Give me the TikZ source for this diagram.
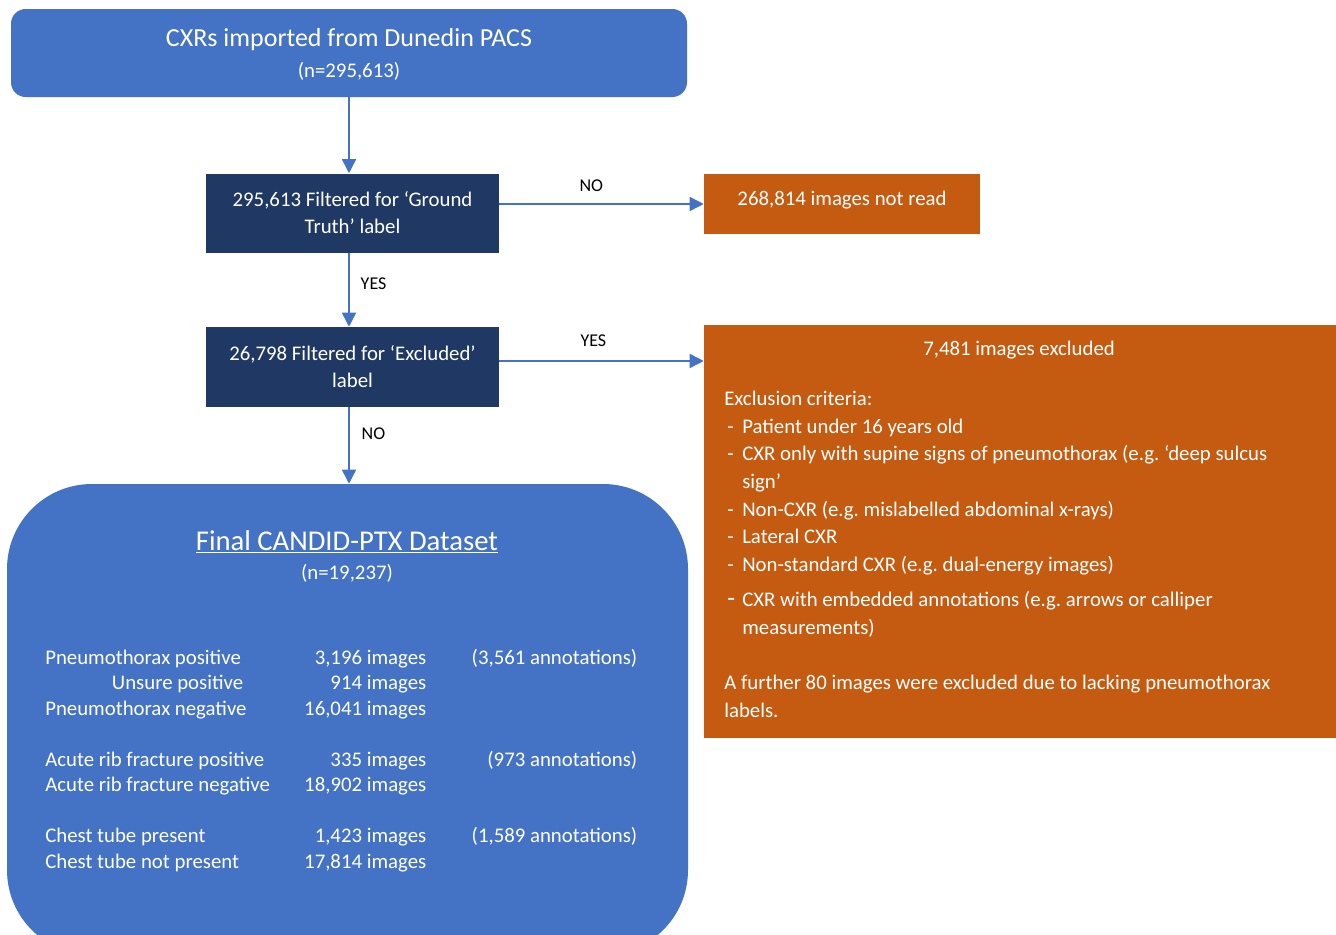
\documentclass[tikz,border=0pt]{standalone}
\usepackage{fontspec}
\setmainfont{Carlito}
\usetikzlibrary{arrows.meta,positioning}
\frenchspacing

\definecolor{boxblue}{HTML}{4472C4}
\definecolor{navy}{HTML}{203864}
\definecolor{rust}{HTML}{C55A11}

\newcommand{\bodyfont}{\fontsize{15.6pt}{20.3pt}\selectfont}
\newcommand{\headfont}{\fontsize{19.5pt}{23pt}\selectfont}
\newcommand{\bigfont}{\fontsize{21.5pt}{25pt}\selectfont}
\newcommand{\lblfont}{\fontsize{13.5pt}{16pt}\selectfont}
\newcommand{\listfont}{\fontsize{15.6pt}{20.7pt}\selectfont}
\newcommand{\tablefont}{\fontsize{15.6pt}{19.125pt}\selectfont}
% exclusion list items
\newcommand{\crit}[1]{\makebox[13.5pt][l]{\hspace{2.25pt}-}#1}
\newcommand{\critcont}[1]{\hspace*{13.5pt}#1}
% one line of the dataset table
\newcommand{\statrow}[3]{\makebox[191.25pt][l]{#1}\makebox[94.5pt][r]{#2}\makebox[158.25pt][r]{#3}}

\begin{document}
\begin{tikzpicture}[x=0.75pt,y=-0.75pt,
    every node/.style={inner sep=0pt, font=\bodyfont},
    bluebox/.style={fill=boxblue, text=white, rounded corners=11pt, minimum width=507pt, minimum height=66pt},
    filterbox/.style={fill=navy, text=white, minimum width=219.75pt, minimum height=59.25pt, align=center},
    rustbox/.style={fill=rust, text=white},
    flow/.style={draw=boxblue, line width=1.1pt, -{Triangle[length=10.5pt,width=10.5pt]}},
    lbl/.style={font=\lblfont, text=black}]
  \useasboundingbox (0,0) rectangle (1336,935);
  \clip (0,0) rectangle (1336,935);
  \fill[white] (0,0) rectangle (1336,935);

  \node[bluebox] (cxr) at (349,53) {};
  \node[text=white, font=\headfont] (cxrtitle) at (349,40) {CXRs imported from Dunedin PACS};
  \node[text=white] (cxrn) at (349,71) {(n=295,613)};
  \node[filterbox] (gt) at (352.5,213) {295,613 Filtered for ‘Ground\\Truth’ label};
  \node[filterbox, minimum height=60pt] (exf) at (352.5,367) {26,798 Filtered for ‘Excluded’\\label};
  \node[rustbox, minimum width=207pt, minimum height=45pt, text depth=9.3pt] (notread) at (842,204) {268,814 images not read};
  \node[rustbox, minimum width=474pt, minimum height=309.75pt] (excl) at (1020,531.5) {};
  \node[text=white] (exhead) at (1019,350.5) {7,481 images excluded};
  \node[text=white, anchor=base west, align=left, font=\listfont] (exlist) at (724,717) {Exclusion criteria:\\
    \crit{Patient under 16 years old}\\
    \crit{CXR only with supine signs of pneumothorax (e.g. ‘deep sulcus}\\
    \critcont{sign’}\\
    \crit{Non-CXR (e.g. mislabelled abdominal x-rays)}\\
    \crit{Lateral CXR}\\
    \crit{Non-standard CXR (e.g. dual-energy images)}\\[5.85pt]
    \makebox[13.5pt][l]{\hspace{2.25pt}{\fontsize{19pt}{19pt}\selectfont -}}CXR with embedded annotations (e.g. arrows or calliper\\
    \critcont{measurements)}\\[20.7pt]
    A further 80 images were excluded due to lacking pneumothorax\\
    labels.};

  \node[fill=boxblue, rounded corners=63.75pt, minimum width=510.75pt, minimum height=353.25pt] (final) at (347.5,719.5) {};
  \node[text=white, font=\bigfont] (ftitle) at (347,541.5) {\underline{Final CANDID-PTX Dataset}};
  \node[text=white] (fn) at (347,573) {(n=19,237)};
  \node[text=white, anchor=base west, align=left, font=\tablefont] (stats) at (45,868) {%
    \statrow{Pneumothorax positive}{3,196 images}{(3,561 annotations)}\\
    \statrow{\makebox[148.5pt][r]{Unsure positive}}{914 images}{}\\
    \statrow{Pneumothorax negative}{16,041 images}{}\\[19.125pt]
    \statrow{Acute rib fracture positive}{335 images}{(973 annotations)}\\
    \statrow{Acute rib fracture negative}{18,902 images}{}\\[19.125pt]
    \statrow{Chest tube present}{1,423 images}{(1,589 annotations)}\\
    \statrow{Chest tube not present}{17,814 images}{}};

  \draw[flow] (cxr.south) -- (cxr.south |- gt.north);
  \draw[flow] (cxr.south |- gt.south) -- node[lbl, right=8.25pt, pos=0.42] {YES} (cxr.south |- exf.north);
  \draw[flow] (cxr.south |- exf.south) -- node[lbl, right=9pt, pos=0.34] {NO} (cxr.south |- final.north);
  \draw[flow] (gt.east |- notread) -- node[lbl, above=8.5pt, pos=0.45] {NO} (notread.west);
  \draw[flow] ([yshift=4.5pt]exf.east) -- node[lbl, above=10pt, pos=0.46] {YES} ([yshift=4.5pt]exf.east -| excl.west);
\end{tikzpicture}
\end{document}
